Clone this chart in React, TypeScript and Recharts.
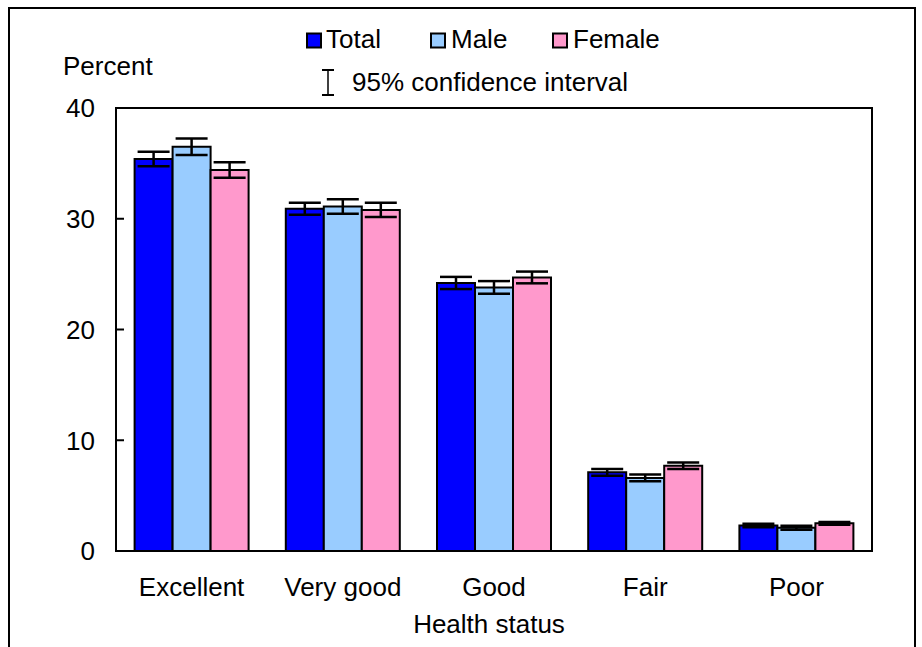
import React from 'react';
import { BarChart, Bar, XAxis, YAxis, ErrorBar, ReferenceArea } from 'recharts';

const categories = ['Excellent', 'Very good', 'Good', 'Fair', 'Poor'];
const totalValues = [35.4, 30.9, 24.2, 7.1, 2.3];
const maleValues = [36.5, 31.1, 23.8, 6.6, 2.1];
const femaleValues = [34.4, 30.8, 24.7, 7.7, 2.5];
const totalCI = [0.65, 0.55, 0.55, 0.3, 0.15];
const maleCI = [0.75, 0.65, 0.57, 0.3, 0.18];
const femaleCI = [0.7, 0.65, 0.53, 0.3, 0.12];
const yTicks = [0, 10, 20, 30, 40];
const seriesNames = ['Total', 'Male', 'Female'];
const seriesColors = ['#0000FF', '#99CCFF', '#FF99CC'];
const yLabel = 'Percent';
const xLabel = 'Health status';
const ciLabel = '95% confidence interval';

const data = categories.map((c, i) => ({
  category: c,
  total: totalValues[i],
  male: maleValues[i],
  female: femaleValues[i],
  totalErr: totalCI[i],
  maleErr: maleCI[i],
  femaleErr: femaleCI[i],
}));

const FONT = '"Liberation Sans", Arial, Helvetica, sans-serif';
const FS = 26;

const YTick = (props: any) => {
  const { x, y, payload } = props;
  return (
    <g>
      <line x1={x + 21} x2={x + 29} y1={y} y2={y} stroke="#000" strokeWidth={2} />
      <text x={x} y={y} dy="0.36em" textAnchor="end" fontFamily={FONT} fontSize={FS} fill="#000">
        {payload.value}
      </text>
    </g>
  );
};

const XTick = (props: any) => {
  const { x, y, payload } = props;
  return (
    <text x={x} y={y + 45} textAnchor="middle" fontFamily={FONT} fontSize={FS} fill="#000">
      {payload.value}
    </text>
  );
};

const legendItems = [
  { sq: 307, tx: 326 },
  { sq: 431, tx: 451 },
  { sq: 553, tx: 573 },
];

export default function App() {
  return (
    <div style={{ position: 'absolute', left: 0, top: 0, width: 922, height: 647, overflow: 'hidden', background: '#fff' }}>
      <div
        style={{
          position: 'absolute',
          left: 8,
          top: 7,
          width: 908,
          height: 700,
          border: '2px solid #000',
          borderBottom: 'none',
          boxSizing: 'border-box',
        }}
      />
      <div style={{ position: 'absolute', left: 0, top: 0 }}>
        <BarChart
          width={922}
          height={647}
          data={data}
          margin={{ top: 108, right: 50, bottom: 0, left: 0 }}
          barGap={0}
          barCategoryGap={18.6}
        >
          <XAxis
            dataKey="category"
            height={96}
            tickLine={false}
            tickSize={0}
            tickMargin={0}
            axisLine={{ stroke: '#000', strokeWidth: 2 }}
            tick={<XTick />}
            interval={0}
            label={{ value: xLabel, position: 'insideBottom', offset: 14, dx: -5, fill: '#000', fontFamily: FONT, fontSize: FS }}
          />
          <YAxis
            width={116}
            domain={[0, 40]}
            ticks={yTicks}
            tickLine={false}
            tickSize={0}
            tickMargin={21}
            axisLine={{ stroke: '#000', strokeWidth: 2 }}
            tick={<YTick />}
            interval={0}
          />
          <ReferenceArea y1={0} y2={40} fill="none" fillOpacity={0} stroke="#000" strokeWidth={2} />
          <Bar dataKey="total" name={seriesNames[0]} fill={seriesColors[0]} stroke="#000" strokeWidth={2} isAnimationActive={false}>
            <ErrorBar dataKey="totalErr" width={16} stroke="#000" strokeWidth={2.5} direction="y" isAnimationActive={false} />
          </Bar>
          <Bar dataKey="male" name={seriesNames[1]} fill={seriesColors[1]} stroke="#000" strokeWidth={2} isAnimationActive={false}>
            <ErrorBar dataKey="maleErr" width={16} stroke="#000" strokeWidth={2.5} direction="y" isAnimationActive={false} />
          </Bar>
          <Bar dataKey="female" name={seriesNames[2]} fill={seriesColors[2]} stroke="#000" strokeWidth={2} isAnimationActive={false}>
            <ErrorBar dataKey="femaleErr" width={16} stroke="#000" strokeWidth={2.5} direction="y" isAnimationActive={false} />
          </Bar>
        </BarChart>
      </div>
      <svg width={922} height={110} style={{ position: 'absolute', left: 0, top: 0, pointerEvents: 'none' }}>
        {seriesNames.map((n, i) => (
          <g key={n}>
            <rect x={legendItems[i].sq} y={33.5} width={14} height={14} fill={seriesColors[i]} stroke="#000" strokeWidth={2} />
            <text x={legendItems[i].tx} y={48} fontFamily={FONT} fontSize={FS} fill="#000">{n}</text>
          </g>
        ))}
        <line x1={328} x2={328} y1={70} y2={95} stroke="#000" strokeWidth={1.5} />
        <line x1={322} x2={334} y1={70} y2={70} stroke="#000" strokeWidth={2} />
        <line x1={322} x2={334} y1={95} y2={95} stroke="#000" strokeWidth={2} />
        <text x={352} y={91} fontFamily={FONT} fontSize={FS} fill="#000">{ciLabel}</text>
        <text x={63} y={75} fontFamily={FONT} fontSize={FS} fill="#000">{yLabel}</text>
      </svg>
    </div>
  );
}
